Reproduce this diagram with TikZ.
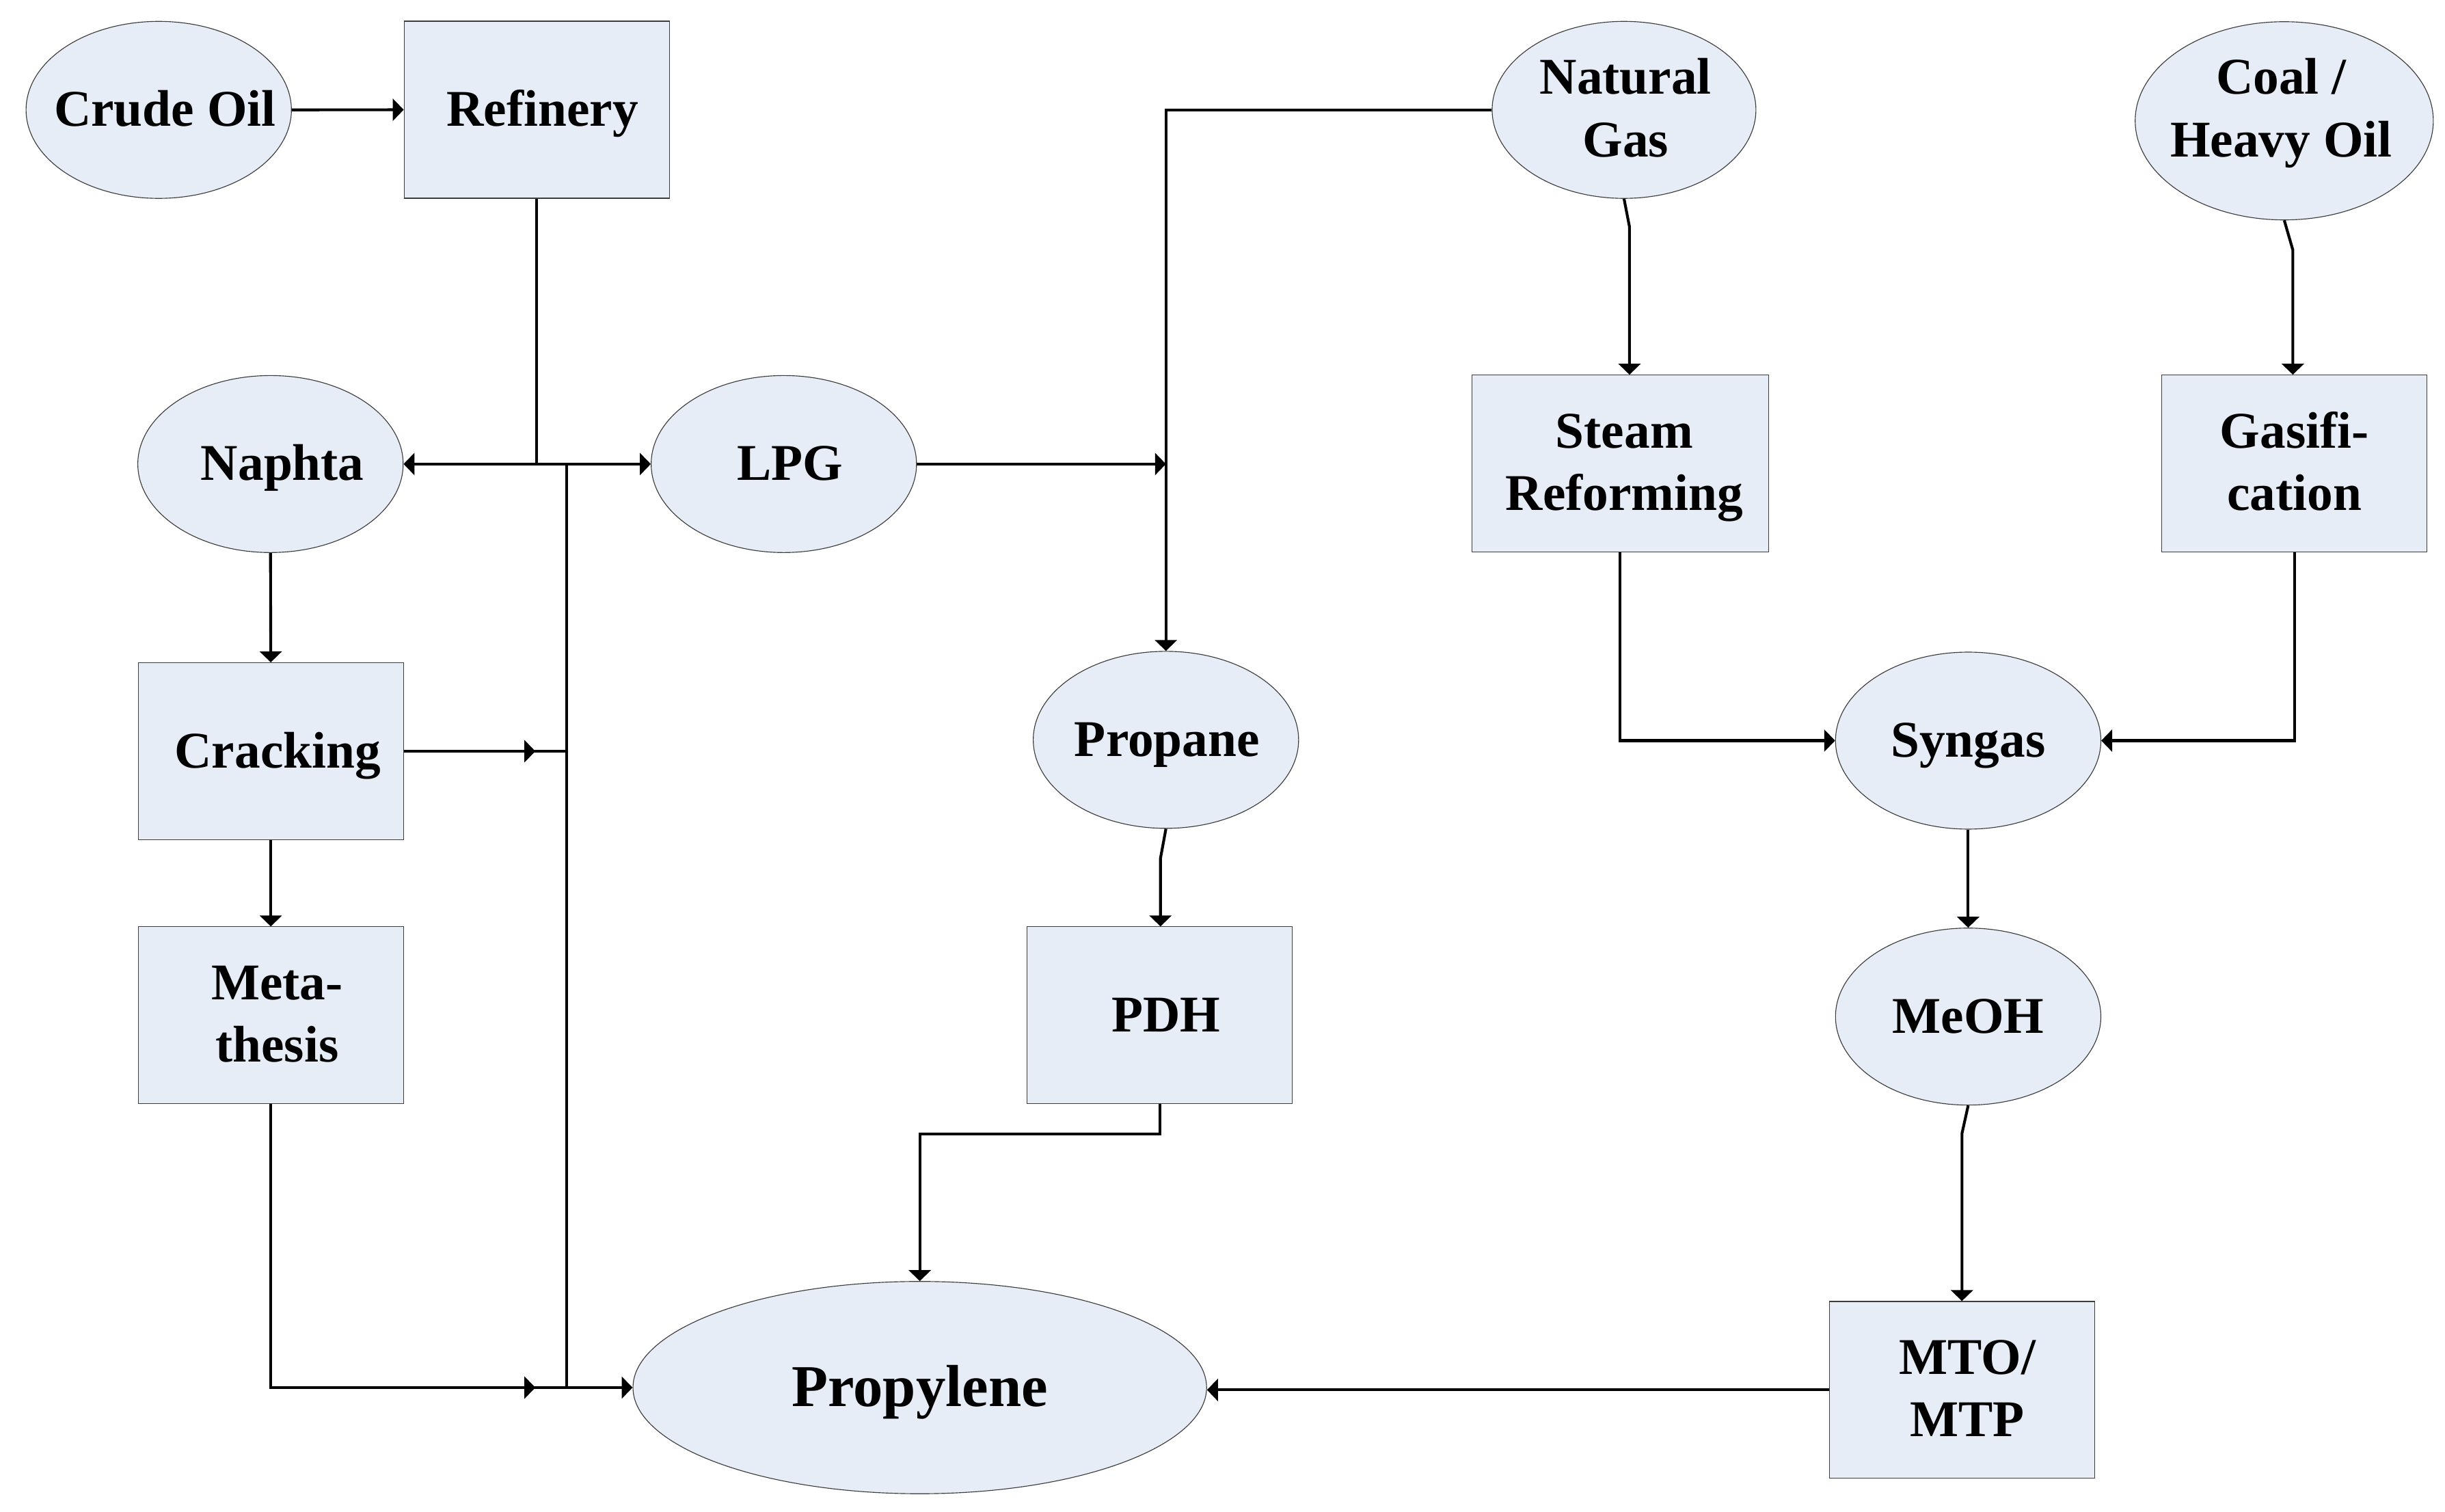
\documentclass[tikz,border=0pt]{standalone}
\usepackage{fontspec}
\setmainfont{Liberation Serif}
\usetikzlibrary{arrows.meta,shapes.geometric,calc}
\definecolor{nodefill}{RGB}{230,237,247}
\definecolor{nodeline}{RGB}{60,60,60}
\newcommand\ntext[2][0]{\makebox[0pt]{\hspace*{#1pt}\hspace*{#1pt}#2}}
\newcommand\ntwo[3][0]{\makebox[0pt]{\hspace*{#1pt}\hspace*{#1pt}\begin{tabular}[t]{@{}c@{}}#2\\#3\end{tabular}}}
\tikzset{
  base/.style={draw=nodeline, line width=0.5pt, fill=nodefill,
    font=\fontsize{33}{40}\selectfont\bfseries, inner sep=0pt,
    text height=21pt, text depth=0pt},
  two/.style={text height=30pt, text depth=50pt},
  ell/.style={base, ellipse, minimum width=170pt, minimum height=113.4pt},
  box/.style={base, rectangle, minimum width=170pt, minimum height=113.4pt},
  conn/.style={line width=1.8pt},
  arr/.style={conn, -{Triangle[length=7pt,width=14pt]}},
}
\begin{document}
\begin{tikzpicture}[x=1pt,y=-1pt]
\fill[white] (0,0) rectangle (1566.5,968.3);
\useasboundingbox (0,0) rectangle (1566.5,968.3);

% nodes
\node[ell] (crude) at (101.7,70.4) {\ntext[4]{Crude Oil}};
\node[box] (ref) at (343.9,70.3) {\ntext[3.7]{Refinery}};
\node[ell,two,minimum width=169pt] (ng) at (1040.5,70.4) {\ntwo[1]{Natural}{Gas}};
\node[ell,minimum width=191pt,minimum height=127pt,text height=23pt,text depth=57pt] (coal) at (1463.5,77.4) {\ntwo[-2]{Coal /}{Heavy Oil}};
\node[ell] (nap) at (173.3,297.3) {\ntext[7.7]{Naphta}};
\node[ell] (lpg) at (502.2,297.3) {\ntext[4]{LPG}};
\node[box,two,minimum width=190pt] (sr) at (1038,297) {\ntwo[2.7]{Steam}{Reforming}};
\node[box,two] (gas) at (1470,297) {\ntwo{Gasifi-}{cation}};
\node[box] (crack) at (173.5,481.3) {\ntext[4.4]{Cracking}};
\node[ell] (propane) at (747,474) {\ntext[0.7]{Propane}};
\node[ell] (syn) at (1261,474.5) {\ntext{Syngas}};
\node[box,two] (meta) at (173.5,650.5) {\ntwo[4]{Meta-}{thesis}};
\node[box] (pdh) at (743,650.5) {\ntext[4]{PDH}};
\node[ell] (meoh) at (1261,651.3) {\ntext{MeOH}};
\node[box,two] (mto) at (1257,890.5) {\ntwo[3.5]{MTO/}{MTP}};
\node[ell,minimum width=367.5pt,minimum height=136pt,font=\fontsize{38}{46}\selectfont\bfseries,text height=24pt] (pyl) at (589.3,889) {\ntext{Propylene}};

% trunk coordinates
\coordinate (T) at (363,297.3);
\coordinate (B) at (363,889);

% connectors
\draw[arr] (crude.east) -- (ref.west);
\draw[conn] (ref.south) -- (ref.south |- nap.east);
\draw[arr] (ref.south |- nap.east) -- (nap.east);
\draw[arr] (ref.south |- lpg.west) -- (lpg.west);
\draw[conn] (T) -- (B);
\draw[arr] (B) -- (pyl.west);
\draw[conn] (crack.east) -- (crack.east -| T);
\draw[arr] (crack.east) -- ($(crack.east -| T)+(-20,0)$);
\draw[conn] (meta.south) |- (B);
\draw[arr] (meta.south) |- ($(B)+(-20,0)$);
\draw[arr] (nap.south) -- (crack.north);
\draw[arr] (crack.south) -- (meta.north);
\draw[arr] (lpg.east) -- (lpg.east -| propane.north);
\draw[arr] (ng.west) -| (propane.north);
\draw[arr] (ng.south) -- ++(3.5,18) coordinate (ngk) -- (ngk |- sr.north);
\draw[arr] (coal.south) -- ++(5.5,19) coordinate (ck) -- (ck |- gas.north);
\draw[arr] (sr.south) |- (syn.west);
\draw[arr] (gas.south) |- (syn.east);
\draw[arr] (syn.south) -- (meoh.north);
\draw[arr] (meoh.south) -- ++(-4,18) coordinate (mk) -- (mk |- mto.north);
\draw[arr] (mto.west) -- (mto.west -| pyl.east);
\draw[arr] (propane.south) -- ++(-3.5,19) coordinate (pk) -- (pk |- pdh.north);
\draw[arr] (pdh.south) -- ++(0,19) -| (pyl.north);
\end{tikzpicture}
\end{document}
